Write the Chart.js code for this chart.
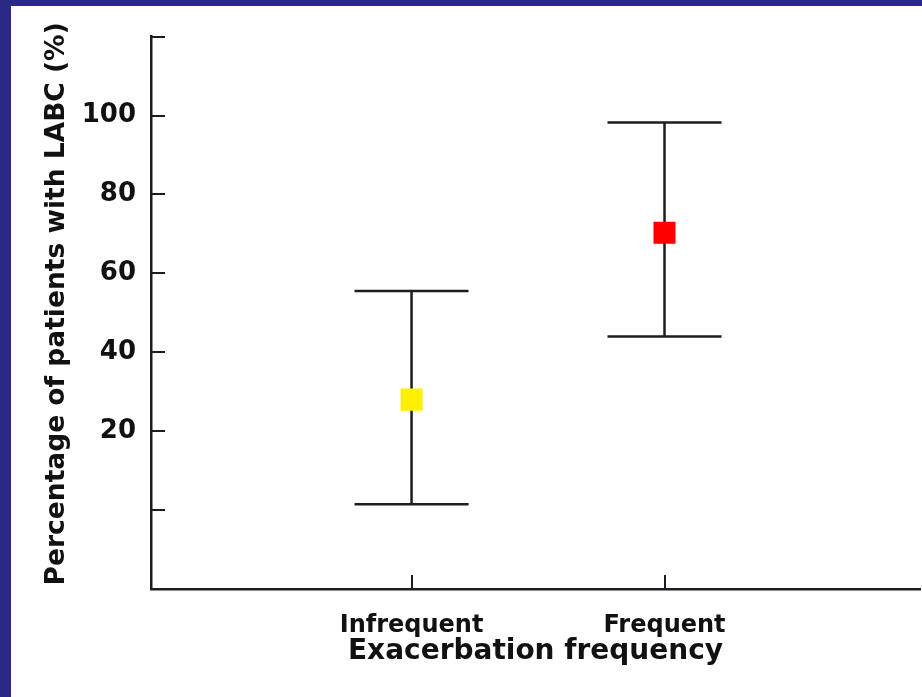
<!DOCTYPE html>
<html>
<head>
<meta charset="utf-8">
<script src="https://cdn.jsdelivr.net/npm/chart.js@4"></script>
<style>
  html, body { margin: 0; padding: 0; }
  body { width: 922px; height: 697px; background: #2a2a86; position: relative; overflow: hidden; }
  #panel { position: absolute; left: 11px; top: 6px; width: 911px; height: 691px; background: #ffffff; }
  #c { display: block; }
</style>
</head>
<body>
<div id="panel"><canvas id="c" width="911" height="691"></canvas></div>
<script>
// ---- data ----
const categories = ['Infrequent', 'Frequent'];
const xPositions = [1, 2];
const means = [28, 70.3];
const lower = [1.5, 44];
const upper = [55.5, 98.2];
const pointColors = ['#fff000', '#ff0000'];
const yTickLabels = [20, 40, 60, 80, 100];

const FONT = "'DejaVu Sans'";
const INK = '#1c1c22';

const errorBars = {
  id: 'errorBars',
  beforeDatasetsDraw(chart) {
    const { ctx, scales: { x, y } } = chart;
    const half = 57;
    ctx.save();
    ctx.strokeStyle = INK;
    ctx.lineWidth = 2.5;
    ctx.lineCap = 'butt';
    xPositions.forEach((xv, i) => {
      const px = x.getPixelForValue(xv);
      const pLo = y.getPixelForValue(lower[i]);
      const pHi = y.getPixelForValue(upper[i]);
      ctx.beginPath();
      ctx.moveTo(px, pHi); ctx.lineTo(px, pLo);
      ctx.moveTo(px - half, pHi); ctx.lineTo(px + half, pHi);
      ctx.moveTo(px - half, pLo); ctx.lineTo(px + half, pLo);
      ctx.stroke();
    });
    ctx.restore();
  }
};

const inwardTicks = {
  id: 'inwardTicks',
  afterDraw(chart) {
    const { ctx, scales: { x, y }, chartArea } = chart;
    const len = 14;
    ctx.save();
    ctx.strokeStyle = INK;
    ctx.lineWidth = 2;
    ctx.beginPath();
    y.ticks.forEach(t => {
      if (t.value <= y.min) return;
      const py = Math.round(y.getPixelForValue(t.value));
      ctx.moveTo(chartArea.left, py);
      ctx.lineTo(chartArea.left + len, py);
    });
    x.ticks.forEach(t => {
      const px = Math.round(x.getPixelForValue(t.value));
      ctx.moveTo(px, chartArea.bottom);
      ctx.lineTo(px, chartArea.bottom - len);
    });
    ctx.stroke();
    ctx.restore();
  }
};

// shift the y-axis title slightly upward (as in the reference)
function shiftYTitle(s) {
  if (s._titleShifted) return;
  s._titleShifted = true;
  const orig = s.drawTitle;
  s.drawTitle = function () {
    const ctx = this.ctx;
    ctx.save();
    ctx.translate(0, -9);
    orig.apply(this, arguments);
    ctx.restore();
  };
}

new Chart(document.getElementById('c'), {
  type: 'scatter',
  data: {
    datasets: [{
      data: xPositions.map((xv, i) => ({ x: xv, y: means[i] })),
      pointStyle: 'rect',
      pointRadius: 15.6,
      pointHoverRadius: 15.6,
      backgroundColor: pointColors,
      borderColor: pointColors,
      borderWidth: 0
    }]
  },
  options: {
    responsive: false,
    animation: false,
    events: [],
    layout: { autoPadding: false, padding: { top: 27, right: 2, left: 0, bottom: 0 } },
    plugins: { legend: { display: false }, tooltip: { enabled: false } },
    scales: {
      x: {
        type: 'linear',
        min: -0.03,
        max: 3.01,
        afterBuildTicks: s => { s.ticks = xPositions.map(v => ({ value: v })); },
        afterFit: s => { s.height = 108; s.paddingLeft = 0; s.paddingRight = 0; },
        grid: { display: false, drawTicks: false },
        border: { display: true, color: INK, width: 2.5 },
        ticks: {
          padding: 22,
          color: '#111',
          font: { family: FONT, size: 24, weight: 'bold' },
          callback: (v, i) => categories[i]
        },
        title: {
          display: true,
          text: 'Exacerbation frequency',
          color: '#111',
          font: { family: FONT, size: 28, weight: 'bold' },
          padding: { top: 0, bottom: 28 }
        }
      },
      y: {
        type: 'linear',
        min: -20,
        max: 120,
        afterFit: s => { s.width = 140; shiftYTitle(s); },
        ticks: {
          stepSize: 20,
          padding: 15,
          color: '#111',
          font: { family: FONT, size: 26, weight: 'bold' },
          callback: v => (yTickLabels.includes(v) ? String(v) : '')
        },
        grid: { display: false, drawTicks: false },
        border: { display: true, color: INK, width: 2.5 },
        title: {
          display: true,
          text: 'Percentage of patients with LABC (%)',
          color: '#111',
          font: { family: FONT, size: 26.5, weight: 'bold' },
          padding: { top: 30, bottom: 0 }
        }
      }
    }
  },
  plugins: [errorBars, inwardTicks]
});
</script>
</body>
</html>
